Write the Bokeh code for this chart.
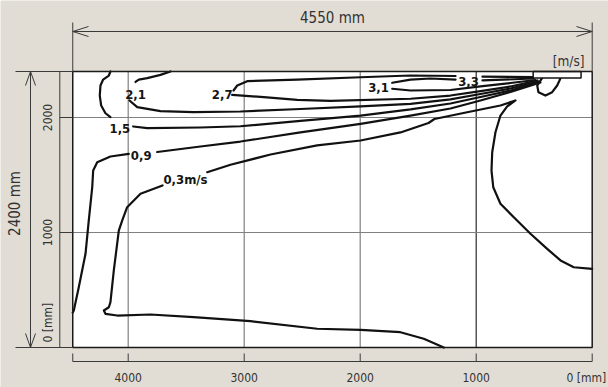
import glob
import numpy as np
from bokeh.plotting import figure
from bokeh.models import Range1d
from bokeh.core.properties import value
from bokeh.embed import file_html
from bokeh.resources import INLINE

# ---------------- data (mm / m/s) ----------------
X_TICKS = [4000, 3000, 2000, 1000, 0]
X_TICK_LABELS = ["4000", "3000", "2000", "1000", "0 [mm]"]
Y_TICKS = [2000, 1000]
Y_TICK_LABELS = ["2000", "1000"]
Y_ZERO_LABEL = "0 [mm]"
ROOM_X_EXTENT = 4478
ROOM_HEIGHT = 2400
ROOM_WIDTH_LABEL = "4550 mm"
ROOM_HEIGHT_LABEL = "2400 mm"
UNIT_LABEL = "[m/s]"

NOZZLE_X = [96, 509]
NOZZLE_Y = [2343, 2400]

# 1,5 m/s
C15_A_X = [4153, 4167, 4216, 4239, 4245, 4233, 4196, 4153]
C15_A_Y = [2400, 2365, 2330, 2278, 2191, 2104, 2037, 2003]
C15_B_X = [3957, 3836, 3377, 3032, 2515, 1997, 1566, 1222, 963, 704, 454]
C15_B_Y = [1922, 1907, 1913, 1924, 1971, 2017, 2070, 2122, 2178, 2235, 2309]
# 2,1 m/s
C21_A_X = [3635, 3722, 3836, 3909, 3937]
C21_A_Y = [2400, 2371, 2342, 2330, 2309]
C21_B_X = [3989, 3922, 3722, 3437, 3032, 2515, 1997, 1566, 1222, 963, 704, 463]
C21_B_Y = [2148, 2090, 2055, 2046, 2052, 2074, 2096, 2119, 2157, 2204, 2252, 2313]
# 2,7 m/s
C27_A_X = [3092, 3060, 2974, 2543, 1997, 1566, 1178]
C27_A_Y = [2235, 2278, 2316, 2330, 2350, 2365, 2361]
C27_B_X = [946, 506]
C27_B_Y = [2355, 2352]
C27_C_X = [3104, 2831, 2543, 2256, 1566, 1222, 963, 704, 472]
C27_C_Y = [2197, 2177, 2154, 2145, 2163, 2191, 2230, 2270, 2322]
# 3,1 m/s
C31_A_X = [1724, 1566, 1394, 1178]
C31_A_Y = [2302, 2330, 2339, 2330]
C31_B_X = [946, 506]
C31_B_Y = [2322, 2339]
C31_C_X = [1724, 1566, 1222, 963, 704, 489]
C31_C_Y = [2250, 2235, 2239, 2270, 2300, 2326]
# 0,9 m/s
C09_A_X = [3995, 4153, 4267, 4302, 4310, 4340, 4368, 4397, 4426, 4469, 4478]
C09_A_Y = [1683, 1661, 1611, 1539, 1394, 1104, 815, 670, 524, 322, 304]
C09_B_X = [3750, 3377, 3032, 2515, 1997, 1566, 1222, 963, 704, 446]
C09_B_Y = [1700, 1748, 1791, 1870, 1945, 2017, 2078, 2148, 2222, 2304]
# 0,3 m/s
C03_A_X = [3704, 3894, 4009, 4052, 4081, 4124, 4153, 4167, 4210, 4196, 4095,
           3808, 3437, 2946, 2371, 1997, 1653, 1452, 1279]
C03_A_Y = [1409, 1337, 1220, 1104, 1017, 670, 394, 350, 322, 293, 278,
           287, 264, 229, 163, 154, 133, 76, 0]
C03_B_X = [3319, 3118, 2773, 2371, 1997, 1653, 1411, 1360, 1078, 791, 661, 733,
           791, 834, 862, 868, 853, 791, 676, 532, 388, 273, 159, 0]
C03_B_Y = [1524, 1589, 1678, 1757, 1800, 1870, 1952, 1987, 2046, 2104, 2148, 2096,
           2017, 1872, 1698, 1539, 1394, 1250, 1133, 989, 858, 757, 698, 684]
# small eddy below the outlet
EDDY_X = [431, 474, 463, 403, 345, 302, 282, 273]
EDDY_Y = [2344, 2278, 2220, 2191, 2220, 2278, 2322, 2344]

LABEL_TEXT = ["2,1", "2,7", "3,1", "3,3", "1,5", "0,9", "0,3m/s"]
LABEL_X = [3937, 3190, 1842, 1066, 4072, 3888, 3506]
LABEL_Y = [2197, 2197, 2263, 2316, 1902, 1670, 1458]

# ---------------- style / layout ----------------
BG = "#e2ddd4"
TXT = "#333333"
DIM = "#3a3a3a"
GRID_COLORS = ["#808080", "#808080", "#808080", "#2a2a2a"]
W, H = 608, 387
MMX = 1000 / 116.0   # mm per screen pixel, horizontal
MMY = 1000 / 115.0   # mm per screen pixel, vertical
PX0, PY0 = 591.7, 347.0  # screen position of the origin


def sx(px):
    return (PX0 - px) * MMX


def sy(py):
    return (PY0 - py) * MMY


def have(pattern):
    return bool(glob.glob("/usr/share/fonts/**/" + pattern, recursive=True) +
                glob.glob("/usr/local/share/fonts/**/" + pattern, recursive=True))


if have("LiberationSansNarrow*"):
    FONT, SZ = "Liberation Sans Narrow", {"lab": 15, "tick": 14, "dim": 17.5, "unit": 16}
elif have("DejaVuSansCondensed*"):
    FONT, SZ = "DejaVu Sans Condensed", {"lab": 13, "tick": 12, "dim": 15, "unit": 13.5}
else:
    FONT, SZ = "Liberation Sans", {"lab": 13.5, "tick": 12.5, "dim": 15, "unit": 14}


def fs(k):
    return f"{SZ[k]}px"


p = figure(width=W, height=H, x_range=Range1d(sx(0), sx(W)), y_range=Range1d(sy(H), sy(0)),
           x_axis_type=None, y_axis_type=None, output_backend="svg",
           toolbar_location=None, min_border=0)
p.grid.visible = False
p.outline_line_color = None
p.background_fill_color = BG
p.border_fill_color = BG

# room
p.quad(left=ROOM_X_EXTENT, right=0, bottom=0, top=ROOM_HEIGHT, fill_color="white", line_color=None)

# grid
p.segment(x0=X_TICKS[:-1], y0=0, x1=X_TICKS[:-1], y1=ROOM_HEIGHT, line_color=GRID_COLORS, line_width=1.2)
p.segment(x0=ROOM_X_EXTENT, y0=Y_TICKS, x1=0, y1=Y_TICKS, line_color="#808080", line_width=1.2)

# contours
for xs, ys in [(C15_A_X, C15_A_Y), (C15_B_X, C15_B_Y), (C21_A_X, C21_A_Y), (C21_B_X, C21_B_Y),
               (C27_A_X, C27_A_Y), (C27_B_X, C27_B_Y), (C27_C_X, C27_C_Y),
               (C31_A_X, C31_A_Y), (C31_B_X, C31_B_Y), (C31_C_X, C31_C_Y),
               (C09_A_X, C09_A_Y), (C09_B_X, C09_B_Y), (C03_A_X, C03_A_Y), (C03_B_X, C03_B_Y),
               (EDDY_X, EDDY_Y)]:
    p.line(xs, ys, line_color="#111111", line_width=2.2, line_join="round", line_cap="round")

# outlet
p.quad(left=NOZZLE_X[0], right=NOZZLE_X[1], bottom=NOZZLE_Y[0], top=NOZZLE_Y[1],
       fill_color="white", line_color="#151515", line_width=1.5)

# contour labels
p.text(x=LABEL_X, y=LABEL_Y, text=LABEL_TEXT, text_font=value(FONT), text_font_style="bold",
       text_font_size=fs("lab"), text_color="#151515", text_align="center", text_baseline="middle")

# room border
p.quad(left=ROOM_X_EXTENT, right=0, bottom=0, top=ROOM_HEIGHT, fill_color=None,
       line_color="#1a1a1a", line_width=1.5)

# --- top dimension line ---
ty = sy(31)
p.segment(x0=[ROOM_X_EXTENT, 0], y0=sy(22), x1=[ROOM_X_EXTENT, 0], y1=ROOM_HEIGHT, line_color=DIM, line_width=1)
p.segment(x0=ROOM_X_EXTENT, y0=ty, x1=0, y1=ty, line_color=DIM, line_width=1)
p.multi_line(xs=[[sx(88), ROOM_X_EXTENT, sx(88)], [sx(576), 0, sx(576)]],
             ys=[[sy(26), ty, sy(36)], [sy(26), ty, sy(36)]], line_color=DIM, line_width=1)
p.text(x=[ROOM_X_EXTENT / 2], y=[sy(17)], text=[ROOM_WIDTH_LABEL], text_font=value(FONT),
       text_font_size=fs("dim"), text_color=TXT, text_align="center", text_baseline="middle")
p.text(x=[sx(584)], y=[sy(60)], text=[UNIT_LABEL], text_font=value(FONT),
       text_font_size=fs("unit"), text_color=TXT, text_align="right", text_baseline="middle")

# --- left dimension line ---
lx = sx(30)
p.segment(x0=sx(15), y0=[0, ROOM_HEIGHT], x1=ROOM_X_EXTENT, y1=[0, ROOM_HEIGHT], line_color=DIM, line_width=1)
p.segment(x0=lx, y0=0, x1=lx, y1=ROOM_HEIGHT, line_color=DIM, line_width=1)
p.multi_line(xs=[[sx(25), lx, sx(35)], [sx(25), lx, sx(35)]],
             ys=[[sy(85), ROOM_HEIGHT, sy(85)], [sy(333), 0, sy(333)]], line_color=DIM, line_width=1)
p.text(x=[sx(14)], y=[ROOM_HEIGHT / 2], text=[ROOM_HEIGHT_LABEL], angle=np.pi / 2, y_offset=-6,
       text_font=value(FONT), text_font_size=fs("dim"), text_color=TXT,
       text_align="center", text_baseline="middle")

# --- left axis ---
ax = sx(59.3)
p.segment(x0=ax, y0=0, x1=ax, y1=ROOM_HEIGHT, line_color=DIM, line_width=1)
p.segment(x0=ax, y0=Y_TICKS, x1=ROOM_X_EXTENT, y1=Y_TICKS, line_color=DIM, line_width=1)
p.text(x=sx(47), y=Y_TICKS, text=Y_TICK_LABELS, angle=np.pi / 2, text_font=value(FONT),
       text_font_size=fs("tick"), text_color=TXT, text_align="center", text_baseline="middle")
p.text(x=[sx(47)], y=[0], text=[Y_ZERO_LABEL], angle=np.pi / 2, y_offset=-5, text_font=value(FONT),
       text_font_size=fs("tick"), text_color=TXT, text_align="left", text_baseline="middle")

# --- bottom axis ---
by = sy(361)
p.segment(x0=ROOM_X_EXTENT, y0=by, x1=0, y1=by, line_color=DIM, line_width=1)
p.segment(x0=[ROOM_X_EXTENT] + X_TICKS, y0=by, x1=[ROOM_X_EXTENT] + X_TICKS, y1=sy(353),
          line_color=DIM, line_width=1)
p.text(x=X_TICKS[:-1], y=sy(377), text=X_TICK_LABELS[:-1], text_font=value(FONT),
       text_font_size=fs("tick"), text_color=TXT, text_align="center", text_baseline="middle")
p.text(x=[X_TICKS[-1]], y=[sy(377)], text=[X_TICK_LABELS[-1]], x_offset=14, text_font=value(FONT),
       text_font_size=fs("tick"), text_color=TXT, text_align="right", text_baseline="middle")

open("out.html", "w").write(file_html(p, INLINE))
